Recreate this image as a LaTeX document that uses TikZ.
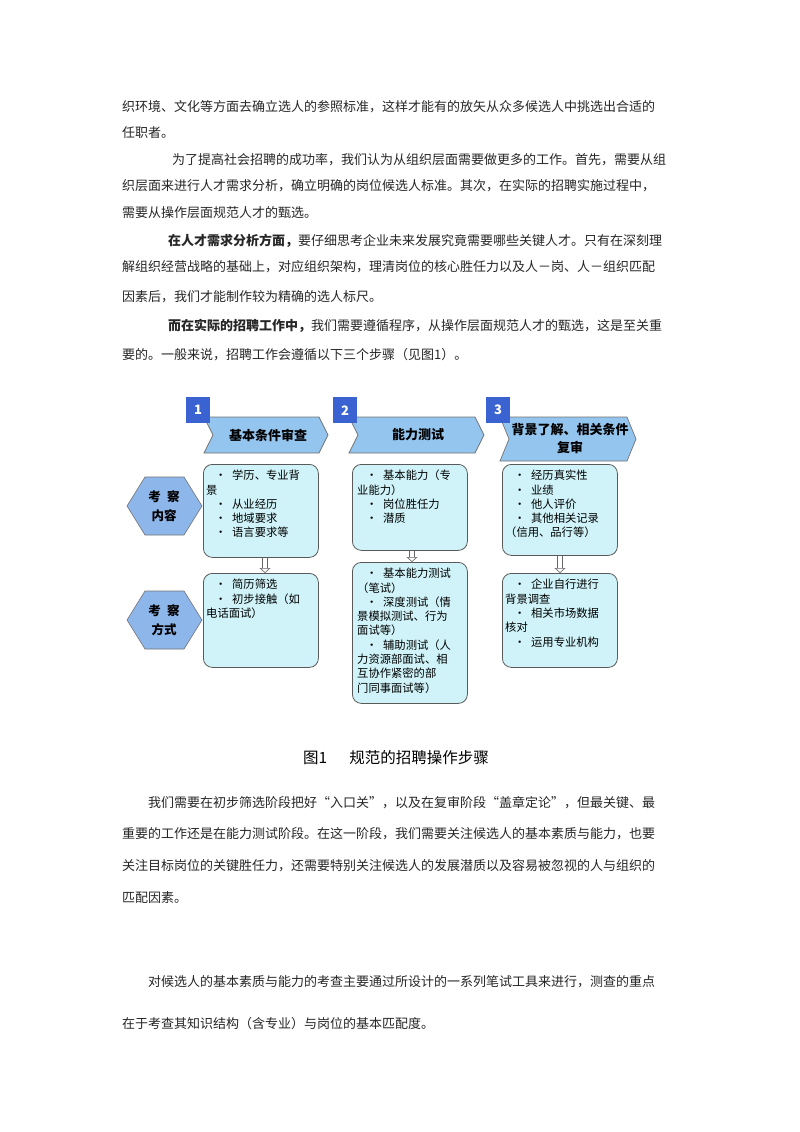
\documentclass[tikz,border=0pt]{standalone}
\usepackage{fontspec}
\setmainfont{Noto Sans CJK SC}
\usetikzlibrary{shapes.geometric,arrows.meta}
\definecolor{chev}{HTML}{93C5EE}
\definecolor{boxf}{HTML}{CFF3F8}
\definecolor{hexf}{HTML}{8DB6EA}
\definecolor{numf}{HTML}{3A62D0}
\tikzset{
 bodyline/.style={anchor=west,inner sep=0,font=\fontsize{13}{13}\selectfont,text=black!85},
 cbox/.style={draw=black!65,line width=0.8pt,fill=boxf,rounded corners=9pt,anchor=north west,inner sep=0},
 btxt/.style={anchor=north west,align=left,inner sep=0,font=\fontsize{11.3}{14.3}\selectfont},
 hexpath/.style={draw=black!55,fill=hexf,line width=0.6pt},
 hext/.style={inner sep=0,align=center,font=\fontsize{12.5}{19}\selectfont\bfseries},
 numsq/.style={fill=numf,text=white,minimum width=24pt,minimum height=26pt,anchor=north west,inner sep=0,font=\fontsize{13}{13}\selectfont\bfseries},
 chevtxt/.style={align=center,font=\fontsize{13}{18}\selectfont\bfseries},
 hol/.style={-{Triangle[open,length=5pt,width=11pt]},double=white,double distance=4pt,draw=black!60,line width=0.6pt}
}
\begin{document}
\begin{tikzpicture}[x=1pt,y=-1pt]
\useasboundingbox[fill=white] (0,0) rectangle (800,1132);
% body text
\node[bodyline] (t1) at (122,107) {织环境、文化等方面去确立选人的参照标准，这样才能有的放矢从众多候选人中挑选出合适的};
\node[bodyline] (t2) at (122,133) {任职者。};
\node[bodyline] (t3) at (172,160) {为了提高社会招聘的成功率，我们认为从组织层面需要做更多的工作。首先，需要从组};
\node[bodyline] (t4) at (122,186) {织层面来进行人才需求分析，确立明确的岗位候选人标准。其次，在实际的招聘实施过程中，};
\node[bodyline] (t5) at (122,213) {需要从操作层面规范人才的甄选。};
\node[bodyline] (t6) at (168,241) {\textbf{在人才需求分析方面，}要仔细思考企业未来发展究竟需要哪些关键人才。只有在深刻理};
\node[bodyline] (t7) at (122,267) {解组织经营战略的基础上，对应组织架构，理清岗位的核心胜任力以及人－岗、人－组织匹配};
\node[bodyline] (t8) at (122,297) {因素后，我们才能制作较为精确的选人标尺。};
\node[bodyline] (t9) at (168,326) {\textbf{而在实际的招聘工作中，}我们需要遵循程序，从操作层面规范人才的甄选，这是至关重};
\node[bodyline] (t10) at (122,355) {要的。一般来说，招聘工作会遵循以下三个步骤（见图1）。};
% chevrons
\foreach \n/\xa/\xb/\yb in {1/204/328/453,2/349/484/453,3/500/636/461}{
 \filldraw[draw=black!55,fill=chev,line width=0.7pt] (\xa,417) -- (\xb-9,417) -- (\xb,{(417+\yb)/2}) -- (\xb-9,\yb) -- (\xa,\yb) -- (\xa+9,{(417+\yb)/2}) -- cycle;
}
\node[chevtxt] (c1) at (268,435) {基本条件审查};
\node[chevtxt] (c2) at (418,435) {能力测试};
\node[chevtxt] (c3) at (570,439) {背景了解、相关条件\\复审};
\node[numsq] (n1) at (186,397) {1};
\node[numsq] (n2) at (333,397) {2};
\node[numsq] (n3) at (486,397) {3};
% hexagons
\foreach \yc in {506,620}{
 \filldraw[hexpath] (127,\yc) -- (145,\yc-29) -- (184,\yc-29) -- (202,\yc) -- (184,\yc+29) -- (145,\yc+29) -- cycle;
}
\node[hext] (h1) at (164,506) {考\enspace 察\\内容};
\node[hext] (h2) at (164,620) {考\enspace 察\\方式};
% boxes
\node[cbox,minimum width=115pt,minimum height=93pt] (b1) at (203,464) {};
\node[cbox,minimum width=115pt,minimum height=86pt] (b2) at (352,464) {};
\node[cbox,minimum width=115pt,minimum height=91pt] (b3) at (502,464) {};
\node[cbox,minimum width=115pt,minimum height=94pt] (d1) at (203,573) {};
\node[cbox,minimum width=115pt,minimum height=141pt] (d2) at (352,562) {};
\node[cbox,minimum width=115pt,minimum height=94pt] (d3) at (502,573) {};
\node[btxt] (x1) at (215,470) {•\enspace 学历、专业背\\\hspace*{-9pt}景\\•\enspace 从业经历\\•\enspace 地域要求\\•\enspace 语言要求等};
\node[btxt] (x2) at (366,470) {•\enspace 基本能力（专\\\hspace*{-9pt}业能力）\\•\enspace 岗位胜任力\\•\enspace 潜质};
\node[btxt] (x3) at (514,470) {•\enspace 经历真实性\\•\enspace 业绩\\•\enspace 他人评价\\•\enspace 其他相关记录\\\hspace*{-9pt}（信用、品行等）};
\node[btxt] (y1) at (215,579) {•\enspace 简历筛选\\•\enspace 初步接触（如\\\hspace*{-9pt}电话面试）};
\node[btxt] (y2) at (366,568) {•\enspace 基本能力测试\\\hspace*{-9pt}（笔试）\\•\enspace 深度测试（情\\\hspace*{-9pt}景模拟测试、行为\\\hspace*{-9pt}面试等）\\•\enspace 辅助测试（人\\\hspace*{-9pt}力资源部面试、相\\\hspace*{-9pt}互协作紧密的部\\\hspace*{-9pt}门同事面试等）};
\node[btxt] (y3) at (514,579) {•\enspace 企业自行进行\\\hspace*{-9pt}背景调查\\•\enspace 相关市场数据\\\hspace*{-9pt}核对\\•\enspace 运用专业机构};
\draw[hol] (b1.south -| 265,0) -- (d1.north -| 265,0);
\draw[hol] (b2.south -| 412,0) -- (d2.north -| 412,0);
\draw[hol] (b3.south -| 560,0) -- (d3.north -| 560,0);
% caption
\node[anchor=west,inner sep=0,font=\fontsize{15.5}{16}\selectfont] (cap) at (303,758) {图1\hspace{22pt}规范的招聘操作步骤};
% lower text
\node[bodyline] (u1) at (148,803) {我们需要在初步筛选阶段把好“入口关”，以及在复审阶段“盖章定论”，但最关键、最};
\node[bodyline] (u2) at (122,834) {重要的工作还是在能力测试阶段。在这一阶段，我们需要关注候选人的基本素质与能力，也要};
\node[bodyline] (u3) at (122,866) {关注目标岗位的关键胜任力，还需要特别关注候选人的发展潜质以及容易被忽视的人与组织的};
\node[bodyline] (u4) at (122,898) {匹配因素。};
\node[bodyline] (u5) at (148,982) {对候选人的基本素质与能力的考查主要通过所设计的一系列笔试工具来进行，测查的重点};
\node[bodyline] (u6) at (122,1024) {在于考查其知识结构（含专业）与岗位的基本匹配度。};
\end{tikzpicture}
\end{document}
